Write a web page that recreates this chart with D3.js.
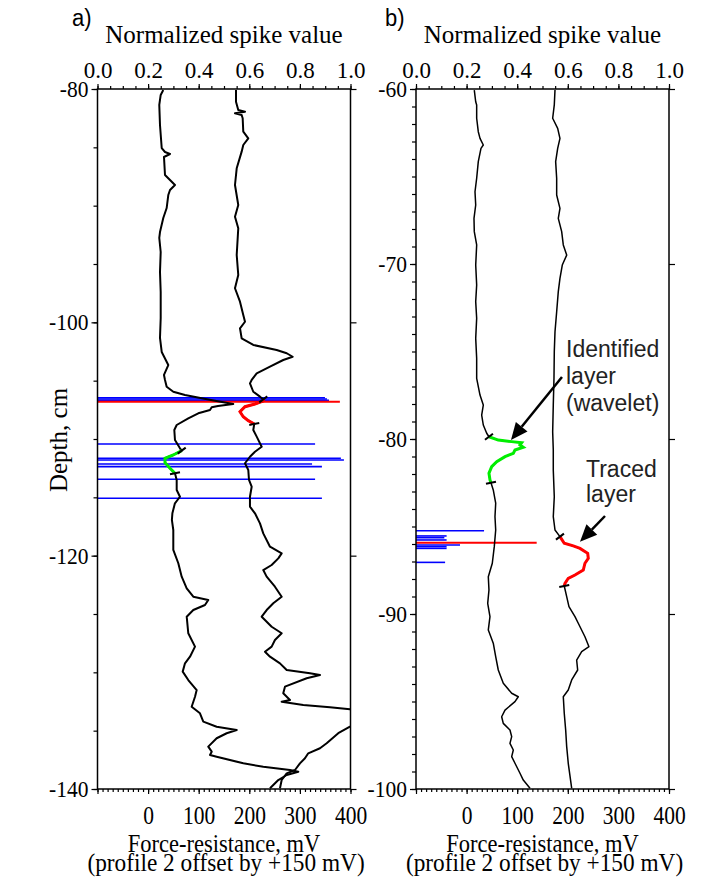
<!DOCTYPE html>
<html><head><meta charset="utf-8">
<script src="https://cdn.jsdelivr.net/npm/d3@7"></script>
<style>body{margin:0;background:#fff} svg{display:block}</style>
</head><body>
<script>
// ---------------- DATA ----------------
const OFFSET = 150; // profile 2 offset (mV)
const mvDomain = [-100, 400];
const normTicks = [0, 0.2, 0.4, 0.6, 0.8, 1.0];
const mvTicks = [-100, 0, 100, 200, 300, 400];
const aDepthTicks = [-80, -100, -120, -140];
const bDepthTicks = [-60, -70, -80, -90, -100];

// panel a: [depth cm, force mV]
const aProfile1 = [[-80.09,30.0],[-80.51,24.9],[-81.37,22.1],[-83.09,23.5],[-85.06,26.9],[-85.40,33.4],[-85.57,43.3],[-85.83,31.4],[-87.37,33.4],[-87.80,43.3],[-88.23,53.1],[-88.66,43.3],[-89.09,39.9],[-90.20,36.7],[-91.06,30.0],[-92.26,23.5],[-92.77,22.1],[-93.97,24.9],[-95.69,23.5],[-97.40,24.9],[-99.63,24.9],[-101.34,23.5],[-102.54,26.9],[-103.66,39.9],[-104.51,31.4],[-104.94,33.4],[-105.52,36.7],[-105.95,49.8],[-106.23,72.9],[-106.51,105.9],[-106.72,132.2],[-107.00,168.3],[-107.17,138.1],[-107.28,125.7],[-107.51,122.3],[-107.80,99.2],[-108.23,79.4],[-108.80,56.5],[-109.23,51.8],[-110.09,53.1],[-110.80,63.0],[-111.00,66.4],[-111.37,49.8],[-111.65,33.4],[-112.03,33.4],[-112.51,43.3],[-112.94,53.1],[-113.51,56.5],[-114.37,56.5],[-114.95,63.0],[-115.51,53.0],[-116.37,48.0],[-116.94,47.0],[-117.80,49.8],[-119.51,49.8],[-120.65,59.7],[-121.80,66.4],[-122.80,76.3],[-123.52,89.3],[-123.80,118.9],[-124.23,112.4],[-124.66,89.3],[-125.23,76.3],[-126.65,79.4],[-127.80,92.7],[-128.66,82.8],[-129.23,72.9],[-129.94,68.4],[-130.66,79.4],[-131.52,96.0],[-132.09,92.7],[-132.95,86.1],[-133.51,102.5],[-134.23,109.1],[-134.66,135.5],[-134.94,175.1],[-135.22,155.3],[-135.65,135.5],[-136.37,118.9],[-136.80,125.7],[-137.08,122.3],[-137.23,135.5],[-137.80,188.1],[-138.09,227.6],[-138.37,280.4],[-138.52,296.8],[-138.80,273.9],[-139.23,257.3],[-139.94,240.9]];
const aProfile2 = [[-80.09,23.7],[-81.09,23.7],[-81.80,28.2],[-81.95,41.5],[-82.08,21.7],[-82.23,34.9],[-82.51,36.9],[-83.66,38.1],[-84.23,48.0],[-84.80,38.1],[-85.37,34.9],[-86.80,25.1],[-88.23,21.7],[-89.94,28.2],[-90.95,21.7],[-91.94,28.2],[-94.23,25.1],[-95.94,28.2],[-97.08,21.7],[-98.23,31.6],[-99.37,38.1],[-99.95,41.5],[-100.51,31.6],[-101.37,34.9],[-101.94,57.9],[-102.37,104.1],[-102.65,123.9],[-102.95,135.7],[-103.23,117.1],[-103.80,90.9],[-104.37,64.6],[-104.94,54.7],[-105.23,51.3],[-105.95,57.9],[-106.37,71.1],[-106.60,77.6],[-106.74,77.6],[-107.00,61.2],[-107.23,41.5],[-107.66,31.6],[-108.09,38.1],[-108.43,48.0],[-108.71,59.8],[-109.23,57.9],[-109.80,64.6],[-110.66,74.5],[-111.09,61.2],[-111.52,51.3],[-112.08,41.5],[-112.66,48.0],[-113.51,49.4],[-114.09,54.7],[-114.95,51.3],[-115.80,51.3],[-116.37,61.2],[-117.23,71.1],[-118.09,77.6],[-119.23,90.9],[-119.80,114.0],[-120.23,107.3],[-120.80,94.2],[-121.23,77.6],[-121.80,84.3],[-122.66,100.7],[-123.52,114.0],[-124.08,97.4],[-124.66,84.3],[-125.23,74.5],[-126.09,94.2],[-126.65,114.0],[-127.23,100.7],[-127.80,94.2],[-128.23,81.0],[-128.66,90.9],[-129.23,110.6],[-129.80,123.9],[-130.08,169.9],[-130.23,189.7],[-130.51,163.4],[-131.23,120.5],[-131.80,117.1],[-132.37,130.4],[-132.52,114.0],[-132.80,156.7],[-133.00,209.4],[-133.17,248.9],[-133.60,290.0],[-134.20,290.0],[-134.66,248.9],[-135.22,225.8],[-136.08,202.9],[-136.51,189.7],[-136.94,166.5],[-137.37,160.0],[-137.80,150.1],[-138.37,140.3],[-138.66,123.9],[-139.23,114.0],[-139.94,110.6]];
const aGreenRange = [-111.00, -112.94];   // on profile 1
const aRedRange = [-106.60, -108.71];     // on profile 2
// [depth, normalized spike value]
const aSpikes = [[-106.46,0.899],[-106.57,0.907],[-106.68,0.915],[-110.43,0.860],[-111.65,0.962],[-111.80,0.974],[-112.14,0.848],[-112.37,0.887],[-113.45,0.860],[-115.08,0.887]];
const aTraced = [[-106.80,0.958]];

// panel b
const bProfile1 = [[-60.06,15.2],[-60.73,18.0],[-60.91,19.9],[-61.67,19.9],[-62.44,23.1],[-62.82,26.5],[-63.20,33.0],[-63.39,28.4],[-64.15,23.1],[-65.10,19.9],[-65.87,16.6],[-66.63,18.0],[-67.39,14.6],[-68.15,15.2],[-68.91,19.9],[-70.06,18.0],[-71.20,19.9],[-72.15,18.0],[-73.10,19.9],[-74.25,18.0],[-75.39,19.9],[-76.53,19.9],[-77.49,26.5],[-78.06,33.0],[-78.63,29.8],[-79.20,33.0],[-79.67,39.7],[-79.87,44.2],[-80.06,62.6],[-80.15,89.1],[-80.21,108.9],[-80.34,105.5],[-80.47,112.0],[-80.63,95.6],[-80.82,92.3],[-81.01,75.9],[-81.30,59.5],[-81.58,49.6],[-81.96,44.2],[-82.34,46.2],[-82.50,48.2],[-82.91,52.7],[-83.67,57.5],[-84.44,56.1],[-85.20,57.5],[-86.15,54.7],[-87.10,50.8],[-87.87,42.9],[-88.63,44.2],[-89.39,41.7],[-90.15,46.2],[-90.91,42.9],[-91.67,52.7],[-92.44,57.5],[-93.20,62.6],[-93.96,72.5],[-94.53,89.1],[-94.73,102.1],[-95.01,95.6],[-95.49,75.9],[-95.87,69.3],[-96.25,72.5],[-96.63,85.7],[-97.01,89.1],[-97.39,85.7],[-97.77,92.3],[-98.15,89.1],[-98.53,95.6],[-99.10,105.5],[-99.49,112.0],[-99.96,125.3]];
const bProfile2 = [[-60.06,24.7],[-60.91,23.3],[-61.67,20.1],[-62.25,30.0],[-62.82,34.5],[-63.39,30.0],[-64.15,26.0],[-65.10,28.0],[-66.06,28.0],[-66.82,34.5],[-67.39,31.2],[-68.15,37.9],[-68.91,41.1],[-69.49,47.8],[-70.06,39.1],[-70.82,34.5],[-71.58,31.2],[-72.73,28.0],[-73.87,24.7],[-75.01,23.3],[-76.53,22.7],[-78.06,21.3],[-79.58,20.1],[-80.63,21.3],[-81.77,21.3],[-83.30,23.3],[-84.44,21.3],[-85.20,24.7],[-85.58,34.5],[-85.96,43.0],[-86.11,60.8],[-86.25,74.1],[-86.53,89.3],[-86.82,90.5],[-87.10,83.9],[-87.49,80.6],[-87.77,64.2],[-87.96,50.9],[-88.25,44.4],[-88.40,43.0],[-89.01,47.8],[-89.58,52.3],[-90.15,64.2],[-90.53,70.7],[-91.30,83.9],[-91.87,91.8],[-92.15,77.4],[-92.63,67.5],[-93.20,69.5],[-93.77,57.7],[-94.34,50.9],[-94.73,41.1],[-95.67,43.0],[-96.63,45.8],[-97.58,47.8],[-98.53,50.9],[-99.96,57.7]];
const bGreenRange = [-79.87, -82.50];
const bRedRange = [-85.58, -88.40];
const bSpikes = [[-85.24,0.269],[-85.54,0.121],[-85.64,0.112],[-85.77,0.121],[-86.06,0.174],[-86.15,0.121],[-86.25,0.121],[-87.05,0.115]];
const bTraced = [[-85.93,0.477]];
// annotations: text lines, arrow from [depth, mV] to [depth, mV]
const bNotes = [
  {lines:["Identified","layer","(wavelet)"], from:[-76.46,188.5], to:[-80.06,87.7]},
  {lines:["Traced","layer"], from:[-84.40,273.5], to:[-85.87,224.1]}
];

// ---------------- DRAW ----------------
const W = 707, H = 877;
const serif = "'Liberation Serif','Times New Roman',serif";
const sans = "'Liberation Sans',Arial,sans-serif";
const svg = d3.select("body").append("svg").attr("width", W).attr("height", H);

function styleAxis(sel, fs, S, yOff) {
  sel.attr("font-family", serif).attr("font-size", fs);
  sel.select(".domain").remove();
  sel.selectAll(".tick line").attr("stroke", "#000").attr("stroke-width", 1.2);
  const t = sel.selectAll(".tick text").attr("font-family", serif).attr("font-size", fs).attr("fill", "#000");
  if (yOff !== undefined) t.attr("dy", null).attr("y", yOff / S).attr("transform", `scale(1,${S})`);
}
function sText(parent, x, y, str, font, fs, S, anchor) {
  parent.append("text").attr("transform", `translate(${x},${y}) scale(1,${S})`)
    .attr("text-anchor", anchor || "start").attr("font-family", font).attr("font-size", fs)
    .attr("fill", "#000").text(str);
}

function drawPanel(c) {
  const g = svg.append("g");
  const x = d3.scaleLinear().domain(mvDomain).range([c.x0, c.x1]);
  const xn = d3.scaleLinear().domain([0, 1]).range([c.x0, c.x1]);
  const y = d3.scaleLinear().domain(c.depth).range([c.y0, c.y1]);
  const id = "clip" + c.name;
  svg.append("clipPath").attr("id", id).append("rect")
    .attr("x", c.x0).attr("y", c.y0).attr("width", c.x1 - c.x0).attr("height", c.y1 - c.y0);
  const plot = g.append("g").attr("clip-path", `url(#${id})`);

  plot.selectAll(".spk").data(c.spikes).join("line")
    .attr("x1", xn(0)).attr("x2", d => xn(d[1]))
    .attr("y1", d => y(d[0])).attr("y2", d => y(d[0]))
    .attr("stroke", "#0000ff").attr("stroke-width", 1.6);
  plot.selectAll(".trc").data(c.traced).join("line")
    .attr("x1", xn(0)).attr("x2", d => xn(d[1]))
    .attr("y1", d => y(d[0])).attr("y2", d => y(d[0]))
    .attr("stroke", "#ff0000").attr("stroke-width", 2);

  const line = d3.line().x(d => x(d[1])).y(d => y(d[0]));
  const p1 = c.p1;
  const p2 = c.p2.map(d => [d[0], d[1] + OFFSET]);
  [p1, p2].forEach(p => plot.append("path").attr("d", line(p)).attr("fill", "none")
    .attr("stroke", "#000").attr("stroke-width", c.lw).attr("stroke-linejoin", "round"));

  const seg = (arr, r) => arr.filter(d => d[0] <= r[0] + 1e-9 && d[0] >= r[1] - 1e-9);
  const gs = seg(p1, c.green), rs = seg(p2, c.red);
  plot.append("path").attr("d", line(gs)).attr("fill", "none").attr("stroke", "#00ee00").attr("stroke-width", 3);
  plot.append("path").attr("d", line(rs)).attr("fill", "none").attr("stroke", "#ff0000").attr("stroke-width", 3);
  [gs, rs].forEach(s => {
    const a = s[0], b = s[s.length - 1];
    const ax = x(a[1]), ay = y(a[0]), bx = x(b[1]), by = y(b[0]);
    plot.append("line").attr("x1", ax - 4).attr("y1", ay + 3).attr("x2", ax + 4).attr("y2", ay - 3)
      .attr("stroke", "#000").attr("stroke-width", 2);
    plot.append("line").attr("x1", bx - 5).attr("y1", by + 1).attr("x2", bx + 5).attr("y2", by - 1)
      .attr("stroke", "#000").attr("stroke-width", 2);
  });

  g.append("rect").attr("x", c.x0).attr("y", c.y0).attr("width", c.x1 - c.x0).attr("height", c.y1 - c.y0)
    .attr("fill", "none").attr("stroke", "#000").attr("stroke-width", 1.5);

  // axes
  g.append("g").attr("transform", `translate(0,${c.y0})`)
    .call(d3.axisTop(xn).tickValues(d3.range(0, 1.0001, 0.05)).tickFormat("").tickSize(3).tickSizeOuter(0))
    .call(s => styleAxis(s, 23));
  g.append("g").attr("transform", `translate(0,${c.y0})`)
    .call(d3.axisTop(xn).tickValues(normTicks).tickFormat(d3.format(".1f")).tickSize(5).tickSizeOuter(0))
    .call(s => styleAxis(s, 23, 1.0, -11.5));
  g.append("g").attr("transform", `translate(0,${c.y1})`)
    .call(d3.axisBottom(x).tickValues(d3.range(-100, 401, 10)).tickFormat("").tickSize(3).tickSizeOuter(0))
    .call(s => styleAxis(s, 21));
  g.append("g").attr("transform", `translate(0,${c.y1})`)
    .call(d3.axisBottom(x).tickValues(mvTicks).tickFormat(d => d === -100 ? "" : String(d)).tickSize(5).tickSizeOuter(0))
    .call(s => styleAxis(s, 21.5, 1.15, 35));
  g.append("g").attr("transform", `translate(${c.x0},0)`)
    .call(d3.axisLeft(y).tickValues(c.yMinor).tickFormat("").tickSize(4).tickSizeOuter(0))
    .call(s => styleAxis(s, 21.5));
  g.append("g").attr("transform", `translate(${c.x0},0)`)
    .call(d3.axisLeft(y).tickValues(c.yTicks).tickFormat(d => String(d)).tickSize(6).tickPadding(3).tickSizeOuter(0))
    .call(s => styleAxis(s, 21.5, 1.1, 7.6));
  g.append("g").attr("transform", `translate(${c.x1},0)`)
    .call(d3.axisRight(y).tickValues(c.yTicks).tickFormat("").tickSize(6).tickSizeOuter(0))
    .call(s => styleAxis(s, 21.5));

  const cx = (c.x0 + c.x1) / 2;
  sText(g, cx, 43, "Normalized spike value", serif, 25, 1.0, "middle");
  sText(g, cx, 852, "Force-resistance, mV", serif, 22.5, 1.1, "middle");
  sText(g, cx + 2, 871, "(profile 2 offset by +150 mV)", serif, 23.3, 1.06, "middle");
  sText(g, c.labelX, 26, c.label, sans, 22, 1.05, "start");

  (c.notes || []).forEach(n => {
    const fx = x(n.from[1]), fy = y(n.from[0]), tx = x(n.to[1]), ty = y(n.to[0]);
    const ang = Math.atan2(ty - fy, tx - fx), L = 17, hw = 7.5;
    const bx = tx - L * Math.cos(ang), by = ty - L * Math.sin(ang);
    g.append("line").attr("x1", fx).attr("y1", fy).attr("x2", bx).attr("y2", by)
      .attr("stroke", "#000").attr("stroke-width", 2.5);
    g.append("polygon").attr("points", [
      [tx, ty],
      [bx + hw * Math.sin(ang), by - hw * Math.cos(ang)],
      [bx - hw * Math.sin(ang), by + hw * Math.cos(ang)]
    ].map(p => p.join(",")).join(" ")).attr("fill", "#000");
  });
  (c.noteText || []).forEach(t => {
    t.lines.forEach((s, j) => g.append("text").attr("x", t.x).attr("y", t.y + j * t.dy)
      .attr("font-family", sans).attr("font-size", 23).attr("fill", "#222").text(s));
  });
}

drawPanel({name: "a", label: "a)", labelX: 72, x0: 97.5, x1: 350.5, y0: 89, y1: 789, depth: [-80, -140],
  yTicks: aDepthTicks, yMinor: d3.range(-80, -140.1, -5), p1: aProfile1, p2: aProfile2,
  green: aGreenRange, red: aRedRange, spikes: aSpikes, traced: aTraced, lw: 2});
drawPanel({name: "b", label: "b)", labelX: 385, x0: 416, x1: 669, y0: 89, y1: 789, depth: [-60, -100],
  yTicks: bDepthTicks, yMinor: d3.range(-60, -100.1, -1), p1: bProfile1, p2: bProfile2,
  green: bGreenRange, red: bRedRange, spikes: bSpikes, traced: bTraced, lw: 1.5,
  notes: bNotes,
  noteText: [{lines: bNotes[0].lines, x: 566, y: 357, dy: 27}, {lines: bNotes[1].lines, x: 586, y: 477, dy: 25}]});

svg.append("text").attr("transform", "translate(67,440) rotate(-90)").attr("text-anchor", "middle")
  .attr("font-family", serif).attr("font-size", 25).attr("fill", "#000").text("Depth, cm");
</script>
</body></html>
